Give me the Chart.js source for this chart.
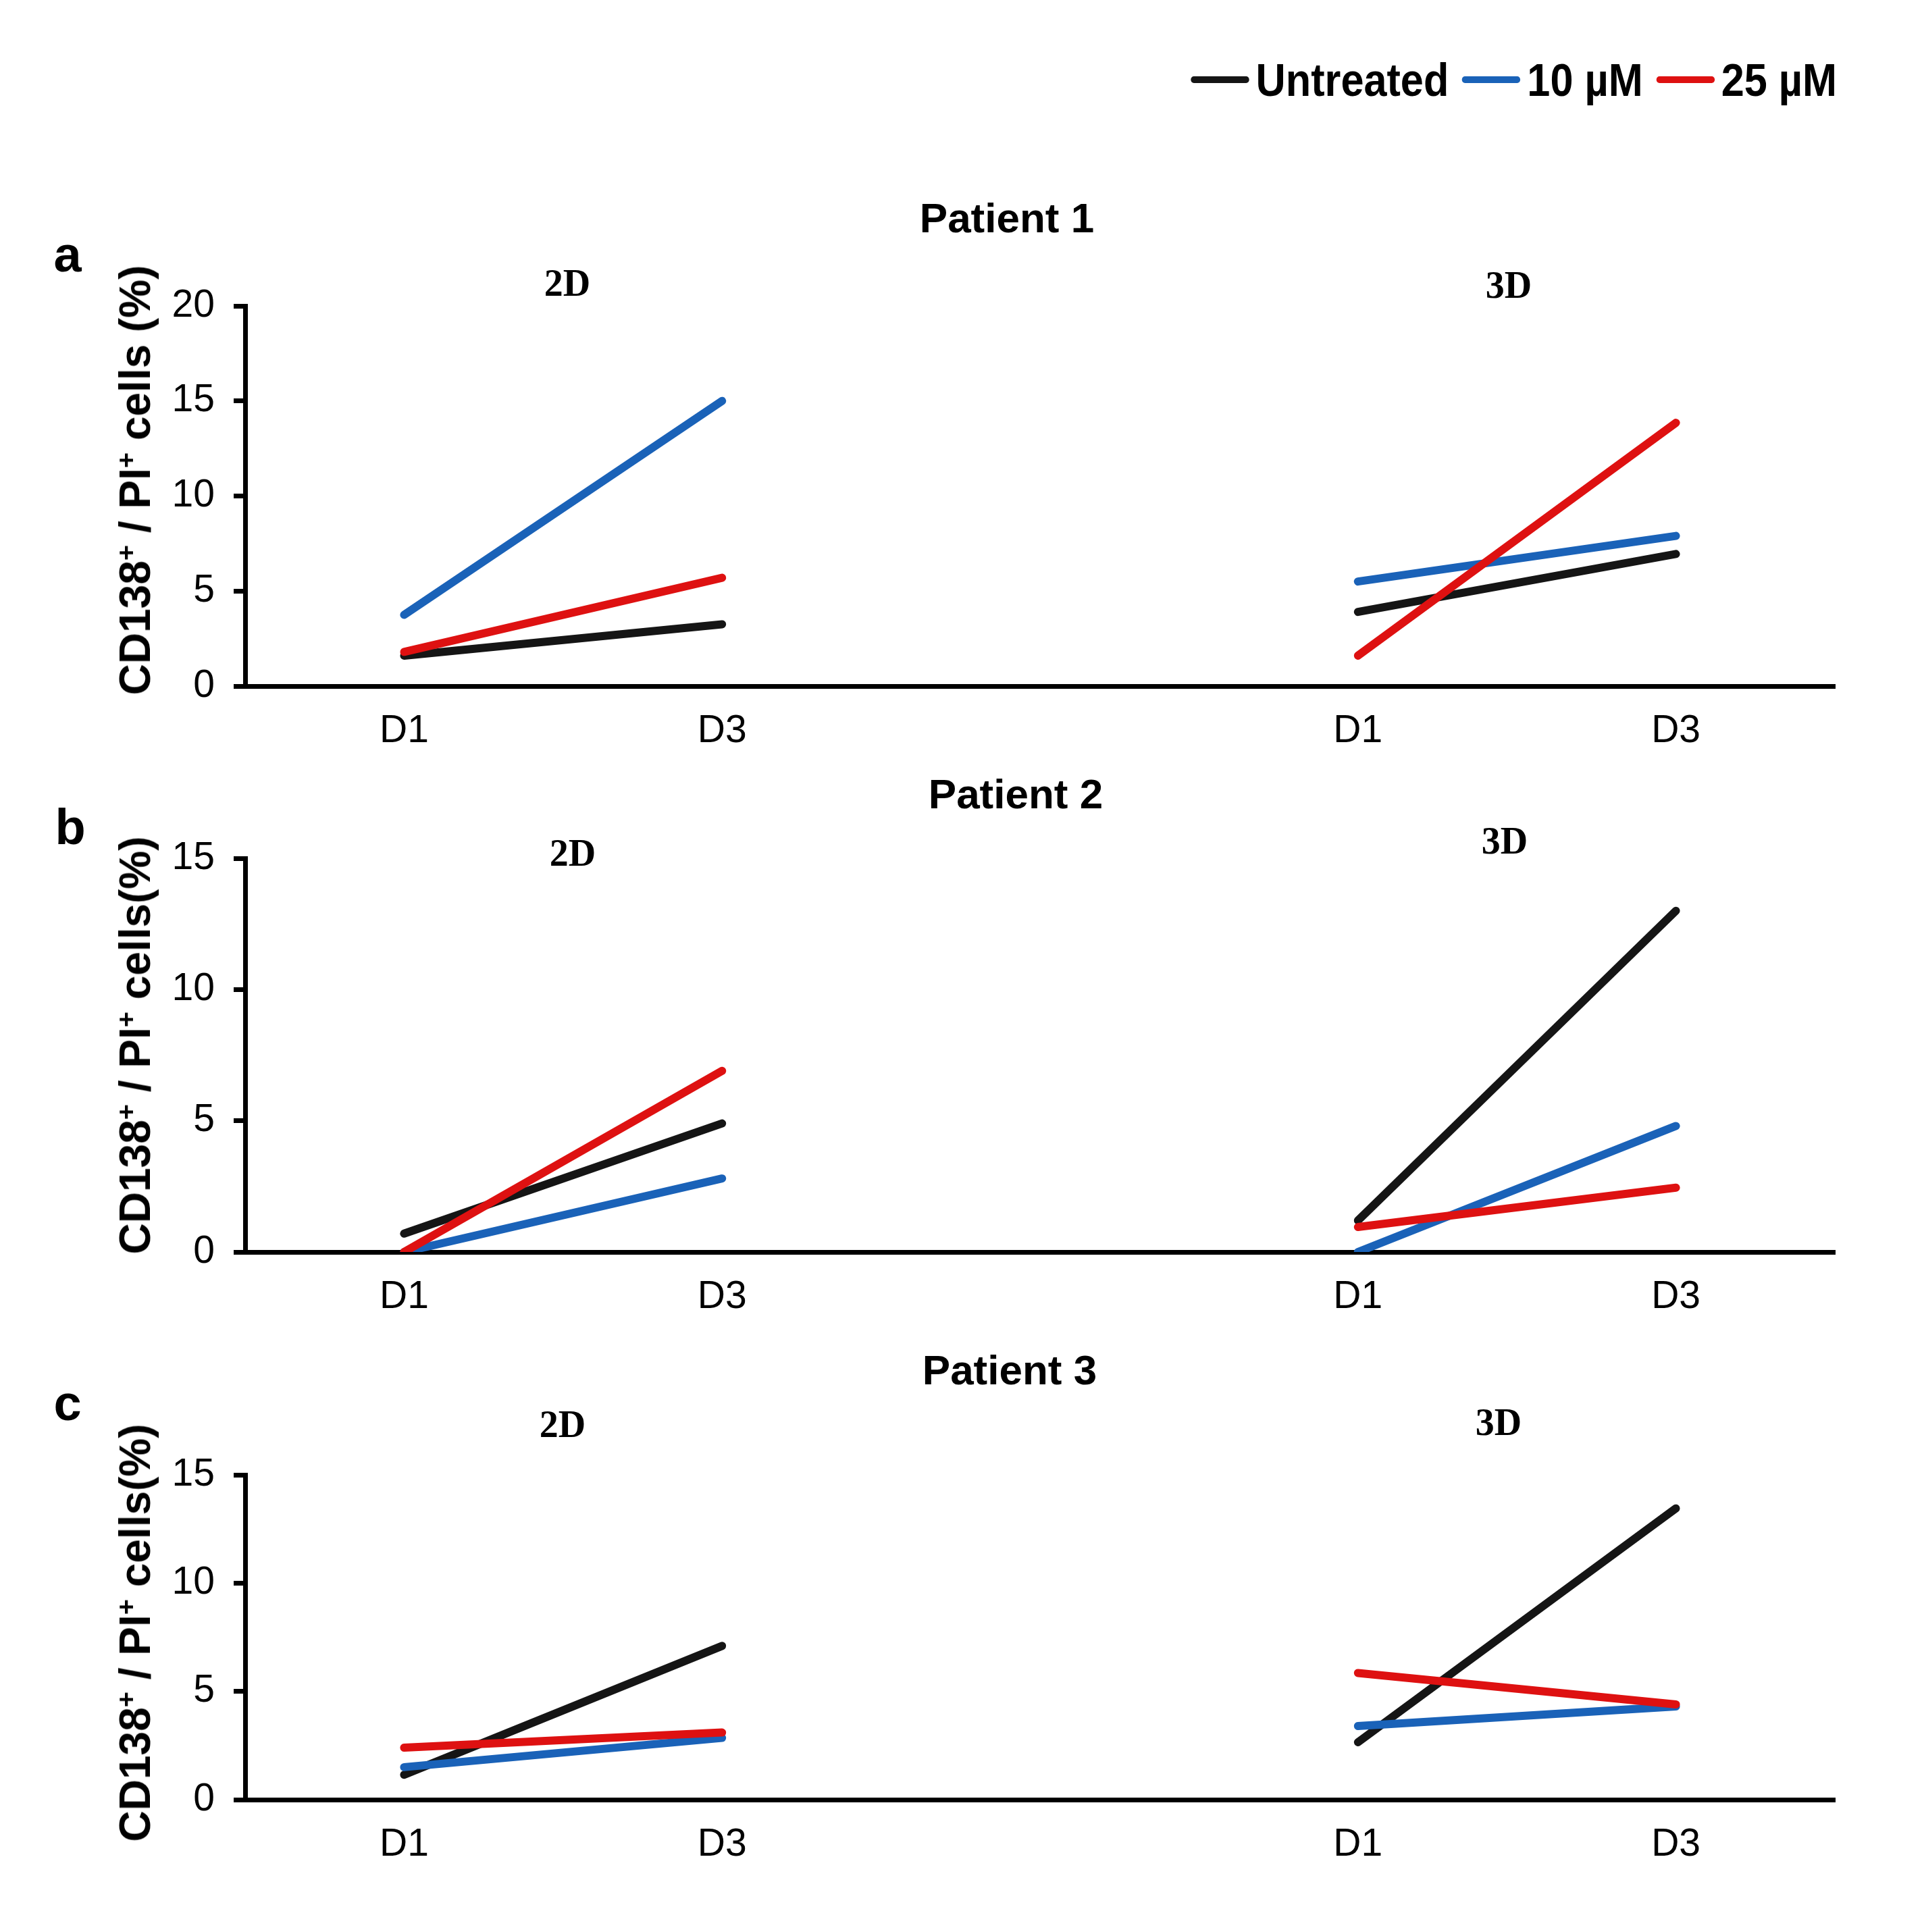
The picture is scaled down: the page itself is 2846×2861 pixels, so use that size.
<!DOCTYPE html>
<html lang="en">
<head>
<meta charset="UTF-8">
<title>CD138+ / PI+ cells</title>
<script src="https://cdn.jsdelivr.net/npm/chart.js@4.4.1/dist/chart.umd.min.js"></script>
<style>
  body { margin: 0; background: #fff; }
  #page { position: relative; width: 2846px; height: 2861px; background: #fff;
          font-family: 'Liberation Sans', Arial, sans-serif; color: #000; overflow: hidden; }
  canvas { position: absolute; left: 0; }
  .txt { position: absolute; transform: translate(-50%, -50%); white-space: nowrap;
         line-height: 1; font-weight: bold; }
  .title { font-size: 62px; }
  .letter { font-size: 74px; }
  .mode { font-family: 'Liberation Serif', 'Times New Roman', serif; font-size: 56px; }
  .ytitle { font-size: 64px; transform: translate(-50%, -50%) rotate(-90deg); }
  .ytitle sup { font-size: 0.62em; vertical-align: 0.55em; line-height: 0; }
  #legend { position: absolute; right: 126px; top: 118px; display: flex; align-items: center;
            transform: translateY(-50%) scaleX(0.9); transform-origin: right center;
            font-weight: bold; font-size: 68px; line-height: 1; }
  #legend .sw { display: inline-block; width: 96px; height: 10px; margin: 0 11px 0 22px; border-radius: 5px; }
  #legend .sw:first-child { margin-left: 0; }
</style>
</head>
<body>
<div id="page">
  <canvas id="c1" width="2846" height="736" style="top:380px"></canvas>
  <canvas id="c2" width="2846" height="754" style="top:1200px"></canvas>
  <canvas id="c3" width="2846" height="655" style="top:2110px"></canvas>

  <div id="legend"></div>

  <div class="txt title" style="left:1491px; top:323px">Patient 1</div>
  <div class="txt title" style="left:1504px; top:1176px">Patient 2</div>
  <div class="txt title" style="left:1495px; top:2029px">Patient 3</div>

  <div class="txt letter" style="left:100px; top:377px">a</div>
  <div class="txt letter" style="left:104px; top:1225px">b</div>
  <div class="txt letter" style="left:100px; top:2078px">c</div>

  <div class="txt mode" style="left:840px; top:419px">2D</div>
  <div class="txt mode" style="left:2234px; top:422px">3D</div>
  <div class="txt mode" style="left:848px; top:1263px">2D</div>
  <div class="txt mode" style="left:2228px; top:1245px">3D</div>
  <div class="txt mode" style="left:833px; top:2109px">2D</div>
  <div class="txt mode" style="left:2219px; top:2106px">3D</div>

  <div class="txt ytitle" style="left:200px; top:711px">CD138<sup>+</sup> / PI<sup>+</sup> cells (%)</div>
  <div class="txt ytitle" style="left:200px; top:1548px">CD138<sup>+</sup> / PI<sup>+</sup> cells(%)</div>
  <div class="txt ytitle" style="left:200px; top:2418px">CD138<sup>+</sup> / PI<sup>+</sup> cells(%)</div>
</div>

<script>
// x categories: 2D block (D1, D3), empty gap, 3D block (D1, D3)
const days = ['D1', 'D3', '', 'D1', 'D3'];
const seriesNames = ['Untreated', '10 µM', '25 µM'];
const seriesColors = ['#151515', '#1a62b8', '#de1111'];

// Patient 1
const p1Untreated = [1.6, 3.25, null, 3.9, 6.95];
const p1Low = [3.75, 15.0, null, 5.5, 7.9];
const p1High = [1.8, 5.7, null, 1.6, 13.85];
// Patient 2
const p2Untreated = [0.7, 4.9, null, 1.2, 13.0];
const p2Low = [0, 2.8, null, 0, 4.8];
const p2High = [0, 6.9, null, 0.95, 2.45];
// Patient 3
const p3Untreated = [1.15, 7.1, null, 2.65, 13.45];
const p3Low = [1.5, 2.85, null, 3.4, 4.3];
const p3High = [2.4, 3.1, null, 5.85, 4.4];

const yMax = [20, 15, 15];
const yStep = 5;

// legend
const legend = document.getElementById('legend');
seriesNames.forEach((name, i) => {
  const sw = document.createElement('span');
  sw.className = 'sw';
  sw.style.background = seriesColors[i];
  const lbl = document.createElement('span');
  lbl.textContent = name;
  legend.appendChild(sw);
  legend.appendChild(lbl);
});

const tickFont = { family: "'Liberation Sans', Arial, sans-serif", size: 57 };

function makePanel(id, values, max, padTop) {
  new Chart(document.getElementById(id), {
    type: 'line',
    data: {
      labels: days,
      datasets: values.map((v, i) => ({
        label: seriesNames[i],
        data: v,
        borderColor: seriesColors[i],
        borderWidth: 12,
        borderCapStyle: 'round',
        pointRadius: 0,
        tension: 0,
        spanGaps: false,
        order: 3 - i
      }))
    },
    options: {
      responsive: false,
      animation: false,
      events: [],
      layout: { padding: { top: padTop, right: 129, bottom: 0, left: 0 } },
      plugins: { legend: { display: false }, tooltip: { enabled: false } },
      scales: {
        x: {
          type: 'category',
          offset: true,
          grid: { display: false, drawTicks: false },
          border: { display: true, color: '#000', width: 7 },
          ticks: { color: '#000', font: tickFont, padding: 33, maxRotation: 0, autoSkip: false },
          afterFit: s => { s.height = 100; }
        },
        y: {
          min: 0,
          max: max,
          ticks: { stepSize: yStep, color: '#000', font: tickFont, padding: 28 },
          grid: { drawOnChartArea: false, drawTicks: true, tickLength: 17, tickWidth: 7, tickColor: '#000' },
          border: { display: true, color: '#000', width: 7 },
          afterFit: s => { s.width = 363; }
        }
      }
    }
  });
}

makePanel('c1', [p1Untreated, p1Low, p1High], yMax[0], 73);
makePanel('c2', [p2Untreated, p2Low, p2High], yMax[1], 71);
makePanel('c3', [p3Untreated, p3Low, p3High], yMax[2], 74);
</script>
</body>
</html>
